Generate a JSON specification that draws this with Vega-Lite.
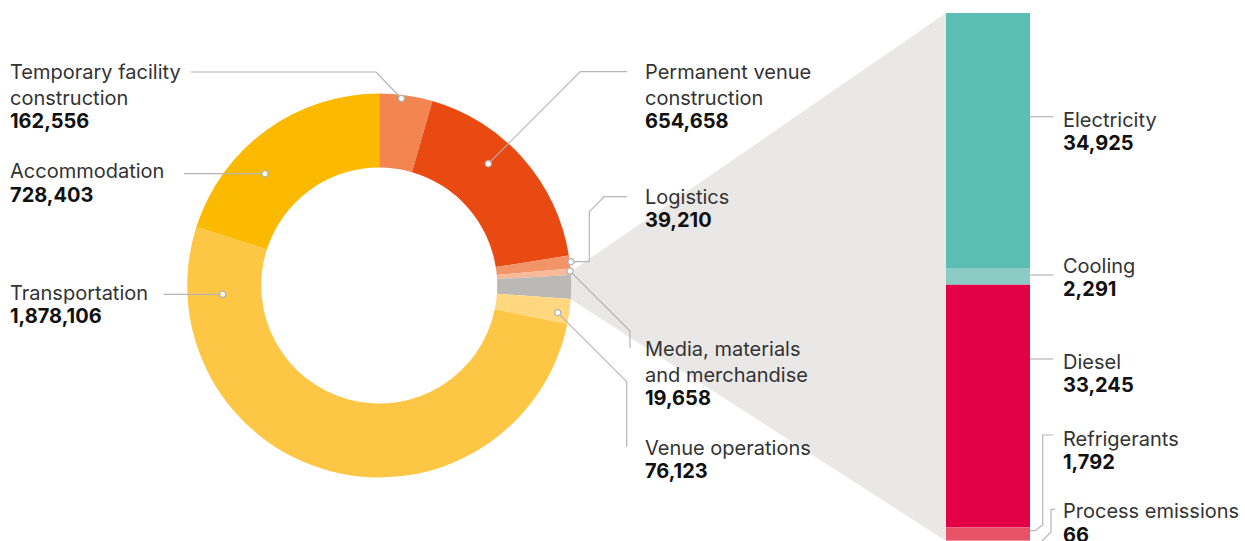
{
  "$schema": "https://vega.github.io/schema/vega-lite/v6.json",
  "width": 1245,
  "height": 541,
  "autosize": "none",
  "padding": 0,
  "background": "white",
  "config": {"view": {"stroke": null}, "font": "Inter"},
  "datasets": {
    "donut": [
      {"category": "Temporary facility construction", "value": 162556, "rank": 1},
      {"category": "Permanent venue construction", "value": 654658, "rank": 2},
      {"category": "Logistics", "value": 39210, "rank": 3},
      {"category": "Media, materials and merchandise", "value": 19658, "rank": 4},
      {"category": "Venue energy and emissions", "value": 72319, "rank": 5},
      {"category": "Venue operations", "value": 76123, "rank": 6},
      {"category": "Transportation", "value": 1878106, "rank": 7},
      {"category": "Accommodation", "value": 728403, "rank": 8}
    ],
    "energy": [
      {"source": "Electricity", "group": "Venue energy and emissions", "value": 34925, "rank": 1},
      {"source": "Cooling", "group": "Venue energy and emissions", "value": 2291, "rank": 2},
      {"source": "Diesel", "group": "Venue energy and emissions", "value": 33245, "rank": 3},
      {"source": "Refrigerants", "group": "Venue energy and emissions", "value": 1792, "rank": 4},
      {"source": "Process emissions", "group": "Venue energy and emissions", "value": 66, "rank": 5}
    ],
    "funnel": [
      {"px": 550, "top": 286, "bottom": 286},
      {"px": 946, "top": 13, "bottom": 541}
    ],
    "labels": [
      {"name": "Temporary facility\nconstruction", "value": 162556, "px": 10, "py": 79.3},
      {"name": "Accommodation", "value": 728403, "px": 10, "py": 178.3},
      {"name": "Transportation", "value": 1878106, "px": 10, "py": 300},
      {"name": "Permanent venue\nconstruction", "value": 654658, "px": 645, "py": 79.3},
      {"name": "Logistics", "value": 39210, "px": 645, "py": 204},
      {"name": "Media, materials\nand merchandise", "value": 19658, "px": 645, "py": 356},
      {"name": "Venue operations", "value": 76123, "px": 645, "py": 455},
      {"name": "Electricity", "value": 34925, "px": 1063, "py": 126.7},
      {"name": "Cooling", "value": 2291, "px": 1063, "py": 272.5},
      {"name": "Diesel", "value": 33245, "px": 1063, "py": 368.7},
      {"name": "Refrigerants", "value": 1792, "px": 1063, "py": 446},
      {"name": "Process emissions", "value": 66, "px": 1063, "py": 518.3}
    ],
    "leaders": [
      {"id": "temp", "kind": "donut", "seq": 0, "px": 401.5, "py": 98.5},
      {"id": "temp", "kind": "donut", "seq": 1, "px": 376, "py": 72},
      {"id": "temp", "kind": "donut", "seq": 2, "px": 191, "py": 72},
      {"id": "accom", "kind": "donut", "seq": 0, "px": 265, "py": 173.7},
      {"id": "accom", "kind": "donut", "seq": 1, "px": 184, "py": 173.7},
      {"id": "transp", "kind": "donut", "seq": 0, "px": 222.7, "py": 294.3},
      {"id": "transp", "kind": "donut", "seq": 1, "px": 163.5, "py": 294.3},
      {"id": "perm", "kind": "donut", "seq": 0, "px": 488.3, "py": 163.7},
      {"id": "perm", "kind": "donut", "seq": 1, "px": 580.3, "py": 71.7},
      {"id": "perm", "kind": "donut", "seq": 2, "px": 627, "py": 71.7},
      {"id": "logi", "kind": "donut", "seq": 0, "px": 571, "py": 261.7},
      {"id": "logi", "kind": "donut", "seq": 1, "px": 589.3, "py": 261.7},
      {"id": "logi", "kind": "donut", "seq": 2, "px": 589.3, "py": 211.7},
      {"id": "logi", "kind": "donut", "seq": 3, "px": 604.3, "py": 196.7},
      {"id": "logi", "kind": "donut", "seq": 4, "px": 627, "py": 196.7},
      {"id": "media", "kind": "donut", "seq": 0, "px": 570, "py": 271},
      {"id": "media", "kind": "donut", "seq": 1, "px": 630, "py": 331},
      {"id": "media", "kind": "donut", "seq": 2, "px": 630, "py": 348},
      {"id": "venue", "kind": "donut", "seq": 0, "px": 557.7, "py": 312.7},
      {"id": "venue", "kind": "donut", "seq": 1, "px": 626.7, "py": 381.7},
      {"id": "venue", "kind": "donut", "seq": 2, "px": 626.7, "py": 446.7},
      {"id": "elec", "kind": "bar", "seq": 0, "px": 1030, "py": 116.7},
      {"id": "elec", "kind": "bar", "seq": 1, "px": 1053.3, "py": 116.7},
      {"id": "cool", "kind": "bar", "seq": 0, "px": 1030, "py": 275},
      {"id": "cool", "kind": "bar", "seq": 1, "px": 1053.3, "py": 275},
      {"id": "diesel", "kind": "bar", "seq": 0, "px": 1030, "py": 359},
      {"id": "diesel", "kind": "bar", "seq": 1, "px": 1053.3, "py": 359},
      {"id": "refrig", "kind": "bar", "seq": 0, "px": 1030, "py": 530.7},
      {"id": "refrig", "kind": "bar", "seq": 1, "px": 1035, "py": 530.7},
      {"id": "refrig", "kind": "bar", "seq": 2, "px": 1042.7, "py": 525},
      {"id": "refrig", "kind": "bar", "seq": 3, "px": 1042.7, "py": 435},
      {"id": "refrig", "kind": "bar", "seq": 4, "px": 1053.3, "py": 435},
      {"id": "process", "kind": "bar", "seq": 0, "px": 1036, "py": 547},
      {"id": "process", "kind": "bar", "seq": 1, "px": 1051, "py": 532},
      {"id": "process", "kind": "bar", "seq": 2, "px": 1051, "py": 509.3},
      {"id": "process", "kind": "bar", "seq": 3, "px": 1055, "py": 509.3}
    ]
  },
  "layer": [
    {
      "data": {"name": "funnel"},
      "mark": {"type": "area", "color": "#E9E8E6", "opacity": 1},
      "encoding": {
        "x": {"field": "px", "type": "quantitative", "scale": {"domain": [0, 1245], "nice": false, "zero": false}, "axis": null},
        "y": {"field": "top", "type": "quantitative", "scale": {"domain": [541, 0], "nice": false, "zero": false}, "axis": null},
        "y2": {"field": "bottom"}
      }
    },
    {
      "data": {"name": "donut"},
      "mark": {"type": "arc", "innerRadius": 118, "outerRadius": 192},
      "encoding": {
        "theta": {"field": "value", "type": "quantitative", "stack": true},
        "order": {"field": "rank", "type": "quantitative"},
        "color": {
          "field": "category", "type": "nominal", "legend": null,
          "scale": {
            "domain": ["Temporary facility construction", "Permanent venue construction", "Logistics", "Media, materials and merchandise", "Venue energy and emissions", "Venue operations", "Transportation", "Accommodation"],
            "range": ["#F28550", "#E84A12", "#F39468", "#F8BA98", "#BAB9B5", "#FFD77E", "#FDC745", "#FBBA00"]
          }
        },
        "x": {"datum": 379.2, "type": "quantitative", "scale": {"domain": [0, 1245], "nice": false, "zero": false}, "axis": null},
        "y": {"datum": 285.5, "type": "quantitative", "scale": {"domain": [541, 0], "nice": false, "zero": false}, "axis": null}
      }
    },
    {
      "data": {"name": "energy"},
      "mark": {"type": "bar"},
      "encoding": {
        "x": {"field": "group", "type": "nominal", "scale": {"range": [946, 1030], "paddingInner": 0, "paddingOuter": 0}, "axis": null},
        "y": {"field": "value", "type": "quantitative", "stack": "zero", "scale": {"domain": [0, 72319], "range": [541, 13], "nice": false}, "axis": null},
        "order": {"field": "rank", "type": "quantitative", "sort": "descending"},
        "color": {
          "field": "source", "type": "nominal", "legend": null,
          "scale": {
            "domain": ["Electricity", "Cooling", "Diesel", "Refrigerants", "Process emissions"],
            "range": ["#5BBDB3", "#8ACCC4", "#E40046", "#E85368", "#EE7A8C"]
          }
        }
      }
    },
    {
      "data": {"name": "leaders"},
      "mark": {"type": "line", "color": "#B5B5B5", "strokeWidth": 1.2, "interpolate": "linear"},
      "encoding": {
        "x": {"field": "px", "type": "quantitative", "scale": {"domain": [0, 1245], "nice": false, "zero": false}, "axis": null},
        "y": {"field": "py", "type": "quantitative", "scale": {"domain": [541, 0], "nice": false, "zero": false}, "axis": null},
        "detail": {"field": "id"},
        "order": {"field": "seq", "type": "quantitative"}
      }
    },
    {
      "data": {"name": "leaders"},
      "transform": [{"filter": "datum.kind === 'donut' && datum.seq === 0"}],
      "mark": {"type": "point", "filled": true, "fill": "white", "stroke": "#B0B0B0", "strokeWidth": 1.3, "size": 38, "opacity": 1},
      "encoding": {
        "x": {"field": "px", "type": "quantitative", "scale": {"domain": [0, 1245], "nice": false, "zero": false}, "axis": null},
        "y": {"field": "py", "type": "quantitative", "scale": {"domain": [541, 0], "nice": false, "zero": false}, "axis": null}
      }
    },
    {
      "data": {"name": "labels"},
      "mark": {"type": "text", "align": "left", "baseline": "alphabetic", "fontSize": 20, "font": "Inter", "color": "#333333", "lineBreak": "\n", "lineHeight": 25.7},
      "encoding": {
        "x": {"field": "px", "type": "quantitative", "scale": {"domain": [0, 1245], "nice": false, "zero": false}, "axis": null},
        "y": {"field": "py", "type": "quantitative", "scale": {"domain": [541, 0], "nice": false, "zero": false}, "axis": null},
        "text": {"field": "name"}
      }
    },
    {
      "data": {"name": "labels"},
      "transform": [{"calculate": "datum.py + (length(split(datum.name, '\\n')) - 1) * 25.7 + 23.3", "as": "vy"}],
      "mark": {"type": "text", "align": "left", "baseline": "alphabetic", "fontSize": 20, "font": "Inter", "fontWeight": "bold", "color": "#111111"},
      "encoding": {
        "x": {"field": "px", "type": "quantitative", "scale": {"domain": [0, 1245], "nice": false, "zero": false}, "axis": null},
        "y": {"field": "vy", "type": "quantitative", "scale": {"domain": [541, 0], "nice": false, "zero": false}, "axis": null},
        "text": {"field": "value", "type": "quantitative", "format": ",d"}
      }
    }
  ],
  "resolve": {"scale": {"x": "independent", "y": "independent", "color": "independent"}}
}
